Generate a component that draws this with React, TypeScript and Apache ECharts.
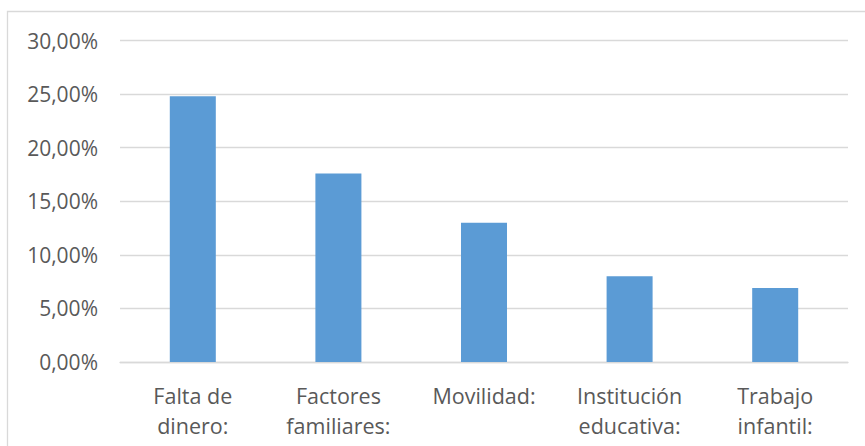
import React, { useEffect, useRef } from "react";
import * as echarts from "echarts";

const categories = ["Falta de\ndinero:", "Factores\nfamiliares:", "Movilidad:", "Institución\neducativa:", "Trabajo\ninfantil:"];
const values = [24.8, 17.6, 13.0, 8.0, 6.9];
const yTicks = { min: 0, max: 30, interval: 5 };

const TEXT = "#595959";
const GRID = "#D9D9D9";
const FONT = "'Open Sans', sans-serif";

export default function App() {
  const ref = useRef<HTMLDivElement>(null);
  useEffect(() => {
    document.body.style.margin = "0";
    const chart = echarts.init(ref.current!, null, { renderer: "svg" });
    chart.setOption({
      animation: false,
      backgroundColor: "#ffffff",
      graphic: [
        {
          type: "rect",
          shape: { x: 7.5, y: 11.5, width: 900, height: 500 },
          style: { fill: "none", stroke: GRID, lineWidth: 1.3 },
          silent: true,
        },
      ],
      grid: { left: 120, right: 17, top: 40.5, bottom: 84 },
      xAxis: {
        type: "category",
        data: categories,
        axisLine: { show: true, lineStyle: { color: GRID, width: 1.3 } },
        axisTick: { show: false },
        axisLabel: {
          color: TEXT,
          fontFamily: FONT,
          fontSize: 21.5,
          lineHeight: 30,
          margin: 18,
          interval: 0,
        },
      },
      yAxis: {
        type: "value",
        min: yTicks.min,
        max: yTicks.max,
        interval: yTicks.interval,
        axisLine: { show: false },
        axisTick: { show: false },
        splitLine: { lineStyle: { color: GRID, width: 1.3 } },
        axisLabel: {
          color: TEXT,
          fontFamily: FONT,
          fontSize: 21,
          margin: 22,
          formatter: (v: number) => v.toFixed(2).replace(".", ",") + "%",
        },
      },
      series: [
        {
          type: "bar",
          data: values,
          barWidth: "31.6%",
          itemStyle: { color: "#5B9BD5" },
        },
      ],
    });
    return () => chart.dispose();
  }, []);
  return <div ref={ref} style={{ width: 865, height: 446 }} />;
}
